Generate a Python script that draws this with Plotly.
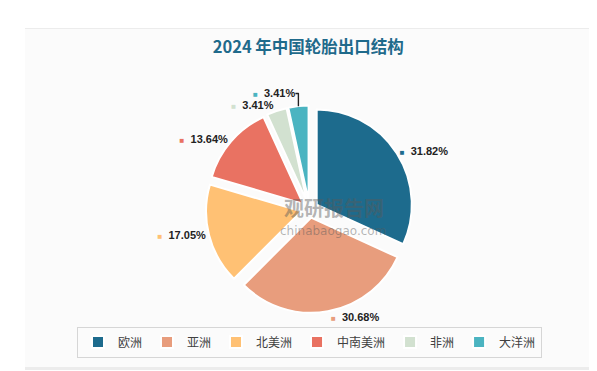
import plotly.graph_objects as go

regions = ["欧洲", "亚洲", "北美洲", "中南美洲", "非洲", "大洋洲"]
shares = [31.82, 30.68, 17.05, 13.64, 3.41, 3.41]
colors = ["#1D6B8D", "#E89D7D", "#FFC174", "#E97262", "#D2E1D0", "#4BB4C1"]
title_text = "2024 年中国轮胎出口结构"

labels_text = [
    f"<span style='color:{c};font-size:8px'>■</span>  <b>{v:.2f}%</b>"
    for c, v in zip(colors, shares)
]

fig = go.Figure()
fig.add_trace(go.Pie(
    labels=regions,
    values=shares,
    text=labels_text,
    textinfo="text",
    textposition="outside",
    textfont=dict(family="Liberation Sans, Arial", size=11, color="#222222"),
    marker=dict(colors=colors, line=dict(color="#ffffff", width=2)),
    sort=False,
    direction="clockwise",
    rotation=0,
    pull=[0.09] * len(shares),
    hole=0,
    domain=dict(x=[0.328, 0.682], y=[0.178, 0.737]),
    showlegend=True,
))

# panel background with shadow
fig.add_shape(type="rect", xref="paper", yref="paper", x0=17/597, x1=587/597,
              y0=1-362/371, y1=1-20/371, fillcolor="#ececec", line=dict(width=0), layer="below")
fig.add_shape(type="rect", xref="paper", yref="paper", x0=17/597, x1=585/597,
              y0=1-359/371, y1=1-21/371, fillcolor="#fbfbfb", line=dict(width=0), layer="below")

# watermark
fig.add_annotation(text="<b>观研报告网</b>", x=326/597, y=1-200/371, xref="paper", yref="paper",
                   showarrow=False, font=dict(family="Noto Sans CJK SC", size=20, color="rgba(90,90,90,0.45)"))
fig.add_annotation(text="chinabaogao.com", x=325/597, y=1-223/371, xref="paper", yref="paper",
                   showarrow=False, font=dict(family="DejaVu Sans", size=12, color="rgba(90,90,90,0.45)"))

fig.update_layout(
    width=597, height=371,
    margin=dict(l=0, r=0, t=0, b=0),
    paper_bgcolor="#ffffff",
    plot_bgcolor="#ffffff",
    title=dict(text=f"<b>{title_text}</b>", x=0.503, xanchor="center", y=1-39/371, yanchor="middle",
               font=dict(family="Noto Sans CJK SC", size=16.5, color="#1F6A8B")),
    legend=dict(orientation="h", x=0.505, xanchor="center", y=1-334/371, yanchor="middle",
                bordercolor="#d6d6d6", borderwidth=1, bgcolor="rgba(0,0,0,0)",
                font=dict(family="Noto Sans CJK SC", size=12, color="#404040"),
                itemwidth=30, tracegroupgap=0),
)

fig.write_html("out.html")
